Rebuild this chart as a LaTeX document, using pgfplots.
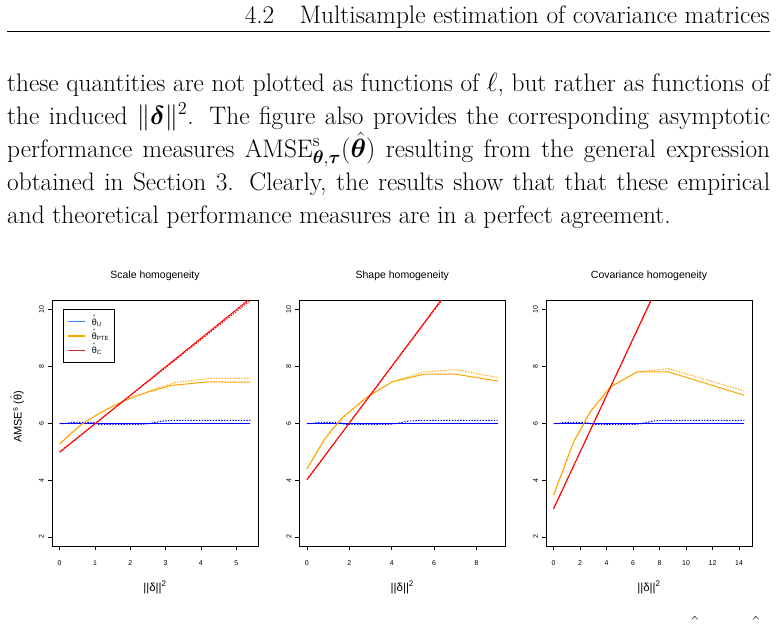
\documentclass[border=0pt]{standalone}
\usepackage{amsmath}
\usepackage{bm}
\usepackage{graphicx}
\usepackage{fontspec}
\usepackage{pgfplots}
\pgfplotsset{compat=1.18}
\newfontfamily\chartfont{Liberation Sans}
\definecolor{rblue}{RGB}{0,0,255}
\definecolor{rorange}{RGB}{255,165,0}
\definecolor{rred}{RGB}{255,0,0}
\definecolor{lgblue}{RGB}{50,135,235}
\definecolor{lgred}{RGB}{205,45,45}
\newcommand\bodyfont{\fontsize{20}{24}\selectfont}
\newlength\Lmax
\newlength\tmpl
\newcommand\LA{these quantities are not plotted as functions of $\ell$, but rather as functions of}
\newcommand\LB{the induced $\|\boldsymbol{\delta}\|^2$. The figure also provides the corresponding asymptotic}
\newcommand\LC{performance measures $\mathrm{AMSE}^{\mathrm{s}}_{\boldsymbol{\theta},\boldsymbol{\tau}}(\hat{\boldsymbol{\theta}})$ resulting from the general expression}
\newcommand\LD{obtained in Section 3. Clearly, the results show that that these empirical}
\newcommand\LE{and theoretical performance measures are in a perfect agreement.}
\newcommand\thh{\leavevmode\vbox{\offinterlineskip\halign{\hfil##\hfil\cr{\fontsize{5}{5}\selectfont\textasciicircum}\cr\noalign{\kern0.2pt}θ\cr}}}
\newcommand\lgline[1]{\textcolor{#1}{\rule[2.6pt]{17pt}{1.3pt}}\hspace{7pt}}
\pgfplotsset{
 rstyle/.style={
  scale only axis, width=206pt, height=245.3pt,
  ymin=1.68, ymax=10.32, ytick={2,4,6,8,10},
  axis line style={line width=0.8pt},
  tick align=outside, major tick length=4pt,
  tick pos=left,
  tick style={black, line width=0.6pt},
  ticklabel style={font=\chartfont\fontsize{7}{8}\selectfont, inner sep=0pt},
  /pgf/number format/assume math mode=true,
  yticklabel style={rotate=90, anchor=south},
  xticklabel shift=10.5pt, yticklabel shift=3.8pt,
  every axis title shift=0pt,
  title style={font=\chartfont\fontsize{10.5}{12}\selectfont, at={(axis description cs:0.5,1.1007)}, anchor=center},
  every axis x label/.style={at={(axis description cs:0.5,-0.169)}, anchor=center, font=\chartfont\fontsize{11.5}{13}\selectfont},
  xlabel={||δ||\textsuperscript{2}},
  clip=true,
  no markers,
  every axis plot/.append style={line width=1pt},
 },
 dots/.style={dash pattern=on 1.4pt off 1.4pt},
}
\begin{document}
\settowidth{\Lmax}{\bodyfont\LA}%
\settowidth{\tmpl}{\bodyfont\LB}\ifdim\tmpl>\Lmax\setlength\Lmax{\tmpl}\fi
\settowidth{\tmpl}{\bodyfont\LC}\ifdim\tmpl>\Lmax\setlength\Lmax{\tmpl}\fi
\settowidth{\tmpl}{\bodyfont\LD}\ifdim\tmpl>\Lmax\setlength\Lmax{\tmpl}\fi
\pgfmathsetmacro\sc{763/\Lmax}%
\begin{tikzpicture}
\path[use as bounding box] (0pt,0pt) rectangle (777pt,-629pt);
% header
\node[anchor=base east, inner sep=0pt] at (770pt,-23pt) {\scalebox{\sc}{\bodyfont 4.2\quad Multisample estimation of covariance matrices}};
\draw[line width=1.4pt] (7pt,-31.7pt) -- (770pt,-31.7pt);
% body text
\node[anchor=base west, inner sep=0pt] at (7pt,-91pt) {\scalebox{\sc}{\bodyfont\makebox[\Lmax][s]{\LA}}};
\node[anchor=base west, inner sep=0pt] at (7pt,-124pt) {\scalebox{\sc}{\bodyfont\makebox[\Lmax][s]{\LB}}};
\node[anchor=base west, inner sep=0pt] at (7pt,-157pt) {\scalebox{\sc}{\bodyfont\makebox[\Lmax][s]{\LC}}};
\node[anchor=base west, inner sep=0pt] at (7pt,-190pt) {\scalebox{\sc}{\bodyfont\makebox[\Lmax][s]{\LD}}};
\node[anchor=base west, inner sep=0pt] at (7pt,-223pt) {\scalebox{\sc}{\bodyfont\makebox[\Lmax][l]{\LE}}};
\node[anchor=base, inner sep=0pt] at (695pt,-641pt) {\scalebox{\sc}{\bodyfont$\hat{\phantom{\boldsymbol{\theta}}}$}};
\node[anchor=base, inner sep=0pt] at (756pt,-641pt) {\scalebox{\sc}{\bodyfont$\hat{\phantom{\boldsymbol{\theta}}}$}};

% ---------------- Scale homogeneity
\begin{axis}[rstyle, at={(52pt,-546pt)}, anchor=south west,
  xmin=-0.216, xmax=5.616, xtick={0,1,2,3,4,5},
  title={Scale homogeneity},
  ylabel={AMSE\textsuperscript{s} (\thh)},
  every axis y label/.style={at={(axis description cs:-0.170,0.526)}, rotate=90, anchor=center, font=\chartfont\fontsize{11}{12}\selectfont},
  legend style={at={(axis description cs:0.052,0.965)}, anchor=north west, draw=black, fill=white,
    inner xsep=4pt, inner ysep=5pt, font=\chartfont\fontsize{9}{10}\selectfont, cells={anchor=west},
    column sep=0pt, row sep=0pt, nodes={inner sep=1pt, text height=9.6pt, text depth=2.6pt}},
]
\addlegendimage{legend image code/.code={}}
\addlegendentry{\lgline{lgblue}\thh\textsubscript{U}}
\addlegendimage{legend image code/.code={}}
\addlegendentry{\lgline{rorange}\thh\textsubscript{PTE}}
\addlegendimage{legend image code/.code={}}
\addlegendentry{\lgline{lgred}\thh\textsubscript{C}}
\addplot[rblue, forget plot] coordinates {(0,6)(5.4,6)};
\addplot[rblue, dots, forget plot] coordinates {(0,5.99)(0.22,6.0)(0.3,6.035)(0.95,6.035)(1.1,5.965)(2.3,5.965)(2.5,5.985)(2.9,6.08)(3.2,6.105)(5.4,6.105)};
\addplot[rorange, forget plot] coordinates {(0,5.27)(0.3,5.62)(0.66,6.0)(1.0,6.26)(1.21,6.41)(1.5,6.6)(1.77,6.76)(2.1,6.93)(2.52,7.11)(3.18,7.34)(4.21,7.46)(5.4,7.45)};
\addplot[rorange, dots, forget plot] coordinates {(0,5.27)(0.3,5.62)(0.66,6.0)(1.0,6.26)(1.21,6.41)(1.5,6.6)(1.77,6.76)(2.1,6.93)(2.52,7.13)(3.27,7.44)(4.21,7.58)(5.4,7.59)};
\addplot[rred, forget plot] coordinates {(0,4.98)(5.4,10.4)};
\addplot[rred, dots, forget plot] coordinates {(0,5.0)(5.4,10.33)};
\end{axis}

% ---------------- Shape homogeneity
\begin{axis}[rstyle, at={(299.3pt,-546pt)}, anchor=south west,
  xmin=-0.36, xmax=9.36, xtick={0,2,4,6,8},
  title={Shape homogeneity},
]
\addplot[rblue] coordinates {(0,6)(9,6)};
\addplot[rblue, dots] coordinates {(0,5.99)(0.35,6.0)(0.5,6.035)(1.5,6.035)(1.8,5.965)(3.8,5.965)(4.2,5.99)(4.8,6.08)(5.3,6.105)(9.0,6.105)};
\addplot[rorange] coordinates {(0,4.39)(0.4,4.9)(0.86,5.47)(1.3,5.88)(1.73,6.23)(2.84,6.93)(4.02,7.46)(5.52,7.73)(7.02,7.73)(9.03,7.49)};
\addplot[rorange, dots] coordinates {(0,4.39)(0.4,4.9)(0.86,5.47)(1.3,5.88)(1.73,6.23)(2.84,6.93)(4.02,7.46)(5.52,7.81)(7.02,7.89)(9.03,7.61)};
\addplot[rred] coordinates {(0,4.01)(9,13.01)};
\addplot[rred, dots] coordinates {(0,4.03)(9,12.95)};
\end{axis}

% ---------------- Covariance homogeneity
\begin{axis}[rstyle, at={(546pt,-546pt)}, anchor=south west,
  xmin=-0.576, xmax=14.976, xtick={0,2,4,6,8,10,12,14},
  title={Covariance homogeneity},
]
\addplot[rblue] coordinates {(0,6)(14.4,6)};
\addplot[rblue, dots] coordinates {(0,5.99)(0.5,6.0)(0.75,6.035)(2.4,6.035)(3.0,5.965)(6.2,5.965)(6.6,5.99)(7.5,6.08)(8.2,6.105)(14.4,6.105)};
\addplot[rorange] coordinates {(0,3.48)(1.51,5.35)(2.77,6.41)(4.28,7.28)(6.29,7.81)(8.68,7.81)(14.39,6.99)};
\addplot[rorange, dots] coordinates {(0,3.48)(1.51,5.35)(2.77,6.41)(4.28,7.28)(6.29,7.81)(8.68,7.93)(14.39,7.14)};
\addplot[rred] coordinates {(0,2.99)(14.4,17.39)};
\addplot[rred, dots] coordinates {(0,3.01)(14.4,17.3)};
\end{axis}
\end{tikzpicture}
\end{document}
